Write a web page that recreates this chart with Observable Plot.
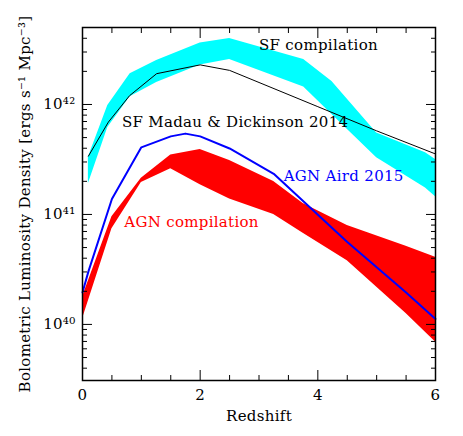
<!DOCTYPE html>
<html><head><meta charset="utf-8">
<script src="https://cdn.jsdelivr.net/npm/d3@7"></script>
<script src="https://cdn.jsdelivr.net/npm/@observablehq/plot@0.6"></script>
<style>body{margin:0;background:#fff} svg text{letter-spacing:0.3px}</style>
</head><body><div id="chart"></div>
<script>
// SF compilation band (log10 of luminosity density)
const sfZ      = [0.1, 0.43, 0.81, 1.26, 2.0, 2.5, 3.76, 4.24, 5.0, 5.83, 6.0];
const sfHiLog  = [41.52, 41.99, 42.28, 42.40, 42.56, 42.60, 42.41, 42.21, 41.74, 41.56, 41.50];
const sfLoLog  = [41.28, 41.79, 42.07, 42.20, 42.36, 42.41, 42.16, 41.91, 41.515, 41.24, 41.16];
// SF Madau & Dickinson 2014 line
const mdZ      = [0.1, 0.44, 0.8, 1.26, 2.0, 2.5, 3.0, 4.0, 5.0, 6.0];
const mdLog    = [41.53, 41.84, 42.08, 42.28, 42.36, 42.31, 42.20, 41.98, 41.76, 41.55];
// AGN Aird 2015 line
const airdZ    = [0, 0.1, 0.5, 1.0, 1.5, 1.75, 2.0, 2.5, 3.25, 4.5, 5.5, 6.0];
const airdLog  = [40.29, 40.48, 41.14, 41.61, 41.71, 41.735, 41.71, 41.60, 41.37, 40.75, 40.29, 40.05];
// AGN compilation band
const agnZ     = [0, 0.5, 1.0, 1.5, 2.0, 2.5, 3.25, 3.75, 4.5, 5.5, 6.0];
const agnHiLog = [40.25, 40.98, 41.33, 41.54, 41.59, 41.49, 41.30, 41.10, 40.90, 40.71, 40.61];
const agnLoLog = [40.05, 40.87, 41.29, 41.415, 41.27, 41.14, 41.00, 40.83, 40.58, 40.10, 39.84];
// Annotations
const labelText = ["SF compilation", "SF Madau & Dickinson 2014", "AGN Aird 2015", "AGN compilation"];
const labelZ    = [3.0, 0.67, 3.42, 0.71];
const labelLog  = [42.536, 41.839, 41.348, 40.93];
const labelColor = ["black", "black", "#0000ff", "#ff0000"];
// Ticks
const xMajor = [0, 2, 4, 6];
const xMinor = [0.5, 1, 1.5, 2.5, 3, 3.5, 4.5, 5, 5.5];
const yMajor = [1e40, 1e41, 1e42];
const yMinor = [4e39,5e39,6e39,7e39,8e39,9e39,2e40,3e40,4e40,5e40,6e40,7e40,8e40,9e40,
                2e41,3e41,4e41,5e41,6e41,7e41,8e41,9e41,2e42,3e42,4e42];

const sup = {"0":"⁰","1":"¹","2":"²","3":"³","4":"⁴","5":"⁵","6":"⁶","7":"⁷","8":"⁸","9":"⁹"};
const fmtY = d => "10" + String(Math.round(Math.log10(d))).split("").map(c => sup[c]).join("");

const sfRows = sfZ.map((z, i) => ({z, hi: 10 ** sfHiLog[i], lo: 10 ** sfLoLog[i]}));
const agnRows = agnZ.map((z, i) => ({z, hi: 10 ** agnHiLog[i], lo: 10 ** agnLoLog[i]}));
const mdRows = mdZ.map((z, i) => ({z, v: 10 ** mdLog[i]}));
const airdRows = airdZ.map((z, i) => ({z, v: 10 ** airdLog[i]}));
const labels = labelText.map((t, i) => ({t, z: labelZ[i], v: 10 ** labelLog[i], c: labelColor[i]}));

const none = () => "";
const chart = Plot.plot({
  width: 463, height: 436,
  marginLeft: 82, marginRight: 28, marginTop: 27, marginBottom: 56,
  style: {fontFamily: "DejaVu Serif", fontSize: "15px", background: "white", color: "black"},
  x: {domain: [0, 6]},
  y: {type: "log", domain: [10 ** 39.49, 10 ** 42.70]},
  marks: [
    Plot.areaY(sfRows, {x: "z", y1: "lo", y2: "hi", fill: "#00ffff"}),
    Plot.areaY(agnRows, {x: "z", y1: "lo", y2: "hi", fill: "#ff0000"}),
    Plot.line(mdRows, {x: "z", y: "v", stroke: "black", strokeWidth: 1}),
    Plot.line(airdRows, {x: "z", y: "v", stroke: "#0000ff", strokeWidth: 2}),
    Plot.text(labels, {x: "z", y: "v", text: "t", fill: "c", textAnchor: "start", fontSize: 15}),
    Plot.axisX({anchor: "bottom", ticks: xMajor, tickSize: -10, tickPadding: 19, tickFormat: d => String(d),
      label: "Redshift", labelAnchor: "center", labelOffset: 40, labelArrow: false}),
    Plot.axisX({anchor: "bottom", ticks: xMinor, tickSize: -5, tickFormat: none, label: null}),
    Plot.axisX({anchor: "top", ticks: xMajor, tickSize: -10, tickFormat: none, label: null}),
    Plot.axisX({anchor: "top", ticks: xMinor, tickSize: -5, tickFormat: none, label: null}),
    Plot.axisY({anchor: "left", ticks: yMajor, tickSize: -10, tickPadding: 17, tickFormat: fmtY,
      label: "Bolometric Luminosity Density [ergs s⁻¹ Mpc⁻³]", labelAnchor: "center", labelOffset: 63, labelArrow: false}),
    Plot.axisY({anchor: "left", ticks: yMinor, tickSize: -5, tickFormat: none, label: null}),
    Plot.axisY({anchor: "right", ticks: yMajor, tickSize: -10, tickFormat: none, label: null}),
    Plot.axisY({anchor: "right", ticks: yMinor, tickSize: -5, tickFormat: none, label: null}),
    Plot.frame({stroke: "black", strokeWidth: 1.5})
  ]
});
document.getElementById("chart").appendChild(chart);
</script>
</body></html>
